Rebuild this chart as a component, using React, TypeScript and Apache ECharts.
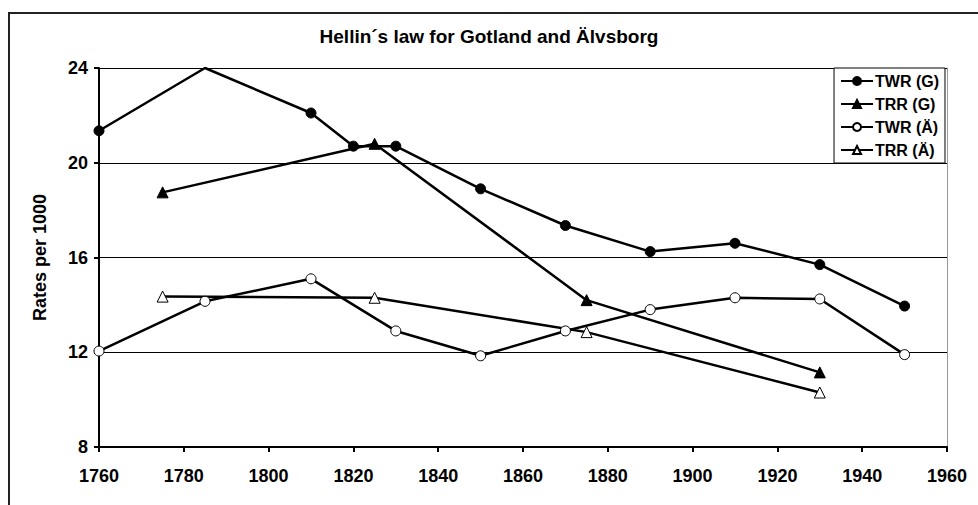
import React, { useEffect, useRef } from "react";
import * as echarts from "echarts";

const twrGYears = [1760, 1785, 1810, 1820, 1830, 1850, 1870, 1890, 1910, 1930, 1950];
const twrGValues = [21.35, 24.0, 22.1, 20.7, 20.7, 18.9, 17.35, 16.25, 16.6, 15.7, 13.95];
const trrGYears = [1775, 1825, 1875, 1930];
const trrGValues = [18.75, 20.8, 14.2, 11.15];
const twrAYears = [1760, 1785, 1810, 1830, 1850, 1870, 1890, 1910, 1930, 1950];
const twrAValues = [12.05, 14.15, 15.1, 12.9, 11.85, 12.9, 13.8, 14.3, 14.25, 11.9];
const trrAYears = [1775, 1825, 1875, 1930];
const trrAValues = [14.35, 14.3, 12.85, 10.3];
const hiddenMarkerYears = [1785];

const FONT = "Liberation Sans, Arial, sans-serif";

function pairs(xs: number[], ys: number[], hidden: number[] = []) {
  return xs.map((x, i) =>
    hidden.includes(x) ? { value: [x, ys[i]], symbol: "none" } : { value: [x, ys[i]] }
  );
}

export default function App() {
  const ref = useRef<HTMLDivElement>(null);
  useEffect(() => {
    if (!ref.current) return;
    const chart = echarts.init(ref.current, undefined, { renderer: "svg" });
    const lineStyle = { color: "#000", width: 2.5 };
    const filled = { color: "#000", borderColor: "#000", borderWidth: 1 };
    const open = { color: "#fff", borderColor: "#000", borderWidth: 1 };
    chart.setOption({
      animation: false,
      backgroundColor: "#fff",
      title: {
        text: "Hellin´s law for Gotland and Älvsborg",
        left: "center",
        top: 22,
        textStyle: { fontFamily: FONT, fontWeight: "bold", fontSize: 19, color: "#000" },
      },
      graphic: [
        {
          type: "rect",
          shape: { x: 9, y: 13, width: 1000, height: 600 },
          style: { fill: "none", stroke: "#222", lineWidth: 2 },
          silent: true,
          z: -1,
        },
      ],
      legend: {
        orient: "vertical",
        right: 33,
        top: 68,
        padding: [5, 6, 5, 6],
        itemGap: 7,
        itemWidth: 32,
        itemHeight: 10,
        borderColor: "#000",
        borderWidth: 1,
        backgroundColor: "#fff",
        textStyle: { fontFamily: FONT, fontWeight: "bold", fontSize: 16, color: "#000", padding: [0, 0, 0, -3] },
        data: ["TWR (G)", "TRR (G)", "TWR (Ä)", "TRR (Ä)"],
      },
      grid: { left: 99, right: 31, top: 68, bottom: 58 },
      xAxis: {
        type: "value",
        min: 1760,
        max: 1960,
        interval: 20,
        axisLine: { lineStyle: { color: "#000", width: 2 } },
        axisTick: { show: true, inside: false, length: 5, lineStyle: { color: "#000", width: 2 } },
        splitLine: { show: false },
        axisLabel: {
          fontFamily: FONT,
          fontWeight: "bold",
          fontSize: 18,
          color: "#000",
          margin: 20,
          formatter: (v: number) => String(v),
        },
      },
      yAxis: [
        {
          type: "value",
          min: 8,
          max: 24,
          interval: 4,
          name: "Rates per 1000",
          nameLocation: "middle",
          nameGap: 50,
          nameTextStyle: { fontFamily: FONT, fontWeight: "bold", fontSize: 18, color: "#000" },
          axisLine: { show: true, lineStyle: { color: "#000", width: 2 } },
          axisTick: { show: true, inside: false, length: 5, lineStyle: { color: "#000", width: 2 } },
          splitLine: { show: true, lineStyle: { color: "#000", width: 1 } },
          axisLabel: { fontFamily: FONT, fontWeight: "bold", fontSize: 18, color: "#000", margin: 11 },
        },
        {
          type: "value",
          min: 8,
          max: 24,
          interval: 4,
          position: "right",
          axisLine: { show: true, lineStyle: { color: "#999", width: 1 } },
          axisTick: { show: false },
          axisLabel: { show: false },
          splitLine: { show: false },
        },
      ],
      series: [
        {
          name: "TWR (G)",
          type: "line",
          data: pairs(twrGYears, twrGValues, hiddenMarkerYears),
          symbol: "circle",
          symbolSize: 10,
          lineStyle,
          itemStyle: filled,
          z: 4,
        },
        {
          name: "TRR (G)",
          type: "line",
          data: pairs(trrGYears, trrGValues),
          symbol: "triangle",
          symbolSize: 11,
          lineStyle,
          itemStyle: filled,
          z: 3,
        },
        {
          name: "TWR (Ä)",
          type: "line",
          data: pairs(twrAYears, twrAValues),
          symbol: "circle",
          symbolSize: 10,
          lineStyle,
          itemStyle: open,
          z: 4,
        },
        {
          name: "TRR (Ä)",
          type: "line",
          data: pairs(trrAYears, trrAValues),
          symbol: "triangle",
          symbolSize: 11,
          lineStyle,
          itemStyle: open,
          z: 3,
        },
      ],
    });
    return () => chart.dispose();
  }, []);
  return (
    <div
      ref={ref}
      style={{ position: "fixed", left: 0, top: 0, width: 978, height: 505 }}
    />
  );
}
